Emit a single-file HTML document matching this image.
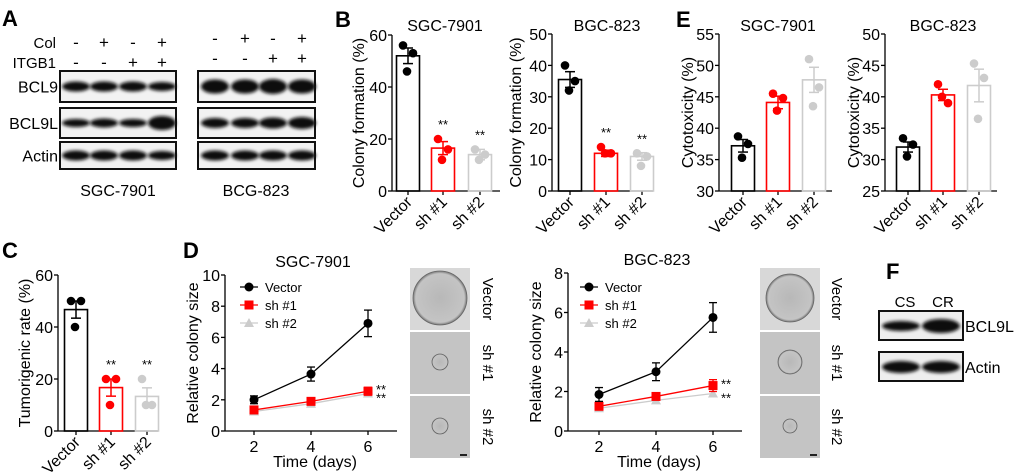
<!DOCTYPE html>
<html><head><meta charset="utf-8"><style>
html,body{margin:0;padding:0;background:#fff}
svg{display:block;font-family:"Liberation Sans",Arial,sans-serif}
</style></head><body>
<svg id="fig" width="1020" height="476" viewBox="0 0 1020 476" xmlns="http://www.w3.org/2000/svg">
<defs>
<filter id="blur" x="-20%" y="-50%" width="140%" height="200%"><feGaussianBlur stdDeviation="1.6"/></filter>
<radialGradient id="cellg"><stop offset="0" stop-color="#b8b8b8"/><stop offset="0.9" stop-color="#c4c4c4"/><stop offset="1" stop-color="#777"/></radialGradient>
</defs>
<g id="root"></g>
</svg>
<script>
// ---- data ----
const barCats = ["Vector","sh #1","sh #2"];
const bMeans1 = [52, 16.5, 14];
const bErr1 = [3, 2.5, 2];
const bPts1 = [[56,53,46],[20,16,12],[16,14,12]];
const bMeans2 = [35.5, 12, 11];
const bErr2 = [2.5, 1, 1.2];
const bPts2 = [[40,35,32],[14,12,12],[12,11,8]];
const eMeans1 = [37.2, 44.1, 47.7];
const eErr1 = [1, 1, 2];
const ePts1 = [[38.7,37.5,35.3],[45.5,44.8,42.8],[51,46.5,43.5]];
const eMeans2 = [32, 40.3, 41.8];
const eErr2 = [0.8, 0.9, 2.6];
const ePts2 = [[33.4,32.4,30.5],[42,39,40],[45.3,43,36.5]];
const cMeans = [46.7, 16.7, 13.3];
const cErr = [3.3, 3.3, 3.3];
const cPts = [[50,50,40],[20,20,10],[20,10,10]];
const days = [2, 4, 6];
const dVec1 = [2.0, 3.65, 6.9];
const dVecErr1 = [0.25, 0.45, 0.85];
const dSh1a = [1.35, 1.9, 2.55];
const dSh1aErr = [0.15, 0.15, 0.25];
const dSh2a = [1.25, 1.75, 2.4];
const dVec2 = [1.85, 3.0, 5.75];
const dVecErr2 = [0.35, 0.45, 0.75];
const dSh1b = [1.25, 1.75, 2.3];
const dSh1bErr = [0.12, 0.15, 0.3];
const dSh2b = [1.15, 1.55, 1.9];
const seriesColors = ["#000000","#ff0000","#cccccc"];

const NS="http://www.w3.org/2000/svg";
const root=document.getElementById('root');
function el(tag,attrs,parent,txt){const e=document.createElementNS(NS,tag);for(const k in attrs)e.setAttribute(k,attrs[k]);if(txt!==undefined)e.textContent=txt;(parent||root).appendChild(e);return e;}
function txt(x,y,s,size,parent,extra){const e=el('text',Object.assign({x:x,y:y,'font-size':size,fill:'#000'},extra||{}),parent,s);return e;}

function barChart(o){
  const g=el('g',{});
  
  
  const y=v=>o.y0-(v-o.min)/(o.max-o.min)*(o.y0-o.y1);
  el('line',{x1:o.ax,y1:o.y1,x2:o.ax,y2:o.y0,stroke:'#000','stroke-width':1.3},g);
  el('line',{x1:o.ax,y1:o.y0,x2:o.axEnd,y2:o.y0,stroke:'#000','stroke-width':1.3},g);
  o.ticks.forEach(t=>{const yy=y(t);el('line',{x1:o.ax-4,y1:yy,x2:o.ax,y2:yy,stroke:'#000','stroke-width':1.3},g);
    const tl=txt(o.ax-5,yy+6,String(t),16,g,{'text-anchor':'end'});
    
    });
  const yl=txt(0,0,o.ylabel,16,g,{'text-anchor':'middle',transform:`translate(${o.ylx},${(o.y0+o.y1)/2}) rotate(-90)`});
  
  
  const tt=txt(o.titleX,o.titleY,o.title,16,g,{'text-anchor':'middle'});
  
  
  const bw=o.bw||23;
  barCats.forEach((c,i)=>{
    const cx=o.xs[i],col=seriesColors[i];
    el('line',{x1:cx,y1:o.y0,x2:cx,y2:o.y0+4,stroke:'#000','stroke-width':1.3},g);
    const b=el('rect',{x:cx-bw/2,y:y(o.means[i]),width:bw,height:o.y0-y(o.means[i]),fill:'none',stroke:col,'stroke-width':1.6},g);
    
    
    const e1=y(o.means[i]+o.err[i]),e2=y(o.means[i]-o.err[i]);
    el('line',{x1:cx,y1:e1,x2:cx,y2:e2,stroke:col,'stroke-width':1.5},g);
    el('line',{x1:cx-5,y1:e1,x2:cx+5,y2:e1,stroke:col,'stroke-width':1.5},g);
    el('line',{x1:cx-5,y1:e2,x2:cx+5,y2:e2,stroke:col,'stroke-width':1.5},g);
    const offs=[-5,5,-1];
    o.pts[i].forEach((p,j)=>{const d=el('circle',{cx:cx+offs[j],cy:y(p),r:4.3,fill:col},g);
      
      });
    if(o.stars&&i>0){txt(cx,y(Math.max(...o.pts[i]))-10,'**',13,g,{'text-anchor':'middle'});}
    const xl=txt(0,0,c,16,g,{'text-anchor':'end',transform:`translate(${cx+5},${o.y0+12}) rotate(-45)`});
    
    
  });
}

function letter(x,y,s){const t=txt(x,y,s,22,root,{'font-weight':'bold'});}

// ---- Panel A ----
letter(2,26,'A');
(function(){
  const g=el('g',{});
  
  
  txt(56,48,'Col',15,g,{'text-anchor':'end'});
  txt(56,68,'ITGB1',15,g,{'text-anchor':'end'});
  const colS=['-','+','-','+'],itS=['-','-','+','+'];
  const xsA=[76,104,133,162],xsB=[215,245,273,302];
  xsA.forEach((x,i)=>{txt(x,48,colS[i],17,g,{'text-anchor':'middle'});txt(x,68,itS[i],17,g,{'text-anchor':'middle'});});
  xsB.forEach((x,i)=>{txt(x,44,colS[i],17,g,{'text-anchor':'middle'});txt(x,64,itS[i],17,g,{'text-anchor':'middle'});});
  const rows=[{n:'BCL9',y:71,h:31},{n:'BCL9L',y:108,h:30},{n:'Actin',y:142,h:27}];
  const intA=[[5,5,5,4.5],[4,4.5,4,7],[5,5,5,4.5]];
  const intB=[[7,7,7.5,7],[5,5,5.5,6],[5,5,5,5]];
  rows.forEach((r,ri)=>{
    txt(58,r.y+r.h/2+6,r.n,16,g,{'text-anchor':'end'});
    [[60,176,xsA,intA],[198,315,xsB,intB]].forEach(([x0,x1,xs,ints])=>{
      el('rect',{x:x0,y:r.y,width:x1-x0,height:r.h,fill:'#f2f2f2',stroke:'#111','stroke-width':2},g);
      xs.forEach((x,i)=>{el('ellipse',{cx:x,cy:r.y+r.h/2,rx:14,ry:ints[ri][i],fill:'#111',filter:'url(#blur)'},g);});
    });
  });
  txt(118,196,'SGC-7901',16,g,{'text-anchor':'middle'});
  txt(256,196,'BCG-823',16,g,{'text-anchor':'middle'});
})();

// ---- Panel B ----
letter(335,27,'B');
barChart({name:'colony-formation-sgc7901',ax:392,axEnd:500,y0:191,y1:35,min:0,max:60,ticks:[0,20,40,60],xs:[408,443,480],means:bMeans1,err:bErr1,pts:bPts1,ylabel:'Colony formation (%)',ylx:364,title:'SGC-7901',titleX:445,titleY:31,stars:true});
barChart({name:'colony-formation-bgc823',ax:552,axEnd:653,y0:191,y1:34,min:0,max:50,ticks:[0,10,20,30,40,50],xs:[570,606,642],means:bMeans2,err:bErr2,pts:bPts2,ylabel:'Colony formation (%)',ylx:521,title:'BGC-823',titleX:607,titleY:31,stars:true});

// ---- Panel E ----
letter(676,27,'E');
barChart({name:'cytotoxicity-sgc7901',ax:719,axEnd:832,y0:191,y1:34,min:30,max:55,ticks:[30,35,40,45,50,55],xs:[743,778,814],means:eMeans1,err:eErr1,pts:ePts1,ylabel:'Cytotoxicity (%)',ylx:693,title:'SGC-7901',titleX:778,titleY:31});
barChart({name:'cytotoxicity-bgc823',ax:885,axEnd:997,y0:191,y1:34,min:25,max:50,ticks:[25,30,35,40,45,50],xs:[908,943,979],means:eMeans2,err:eErr2,pts:ePts2,ylabel:'Cytotoxicity (%)',ylx:859,title:'BGC-823',titleX:943,titleY:31});

// ---- Panel C ----
letter(2,258,'C');
barChart({name:'tumorigenic-rate',ax:58,axEnd:158,y0:431,y1:275,min:0,max:60,ticks:[0,20,40,60],xs:[76,111,147],means:cMeans,err:cErr,pts:cPts,ylabel:'Tumorigenic rate (%)',ylx:30,stars:true,title:'',titleX:0,titleY:0});

// ---- Panel D ----
letter(183,258,'D');
function lineChart(o){
  const g=el('g',{});
  
  
  const y=v=>o.y0-v/o.max*(o.y0-o.y1);
  const x=d=>o.x2+(d-2)/4*(o.x6-o.x2);
  el('line',{x1:o.ax,y1:o.y1,x2:o.ax,y2:o.y0,stroke:'#000','stroke-width':1.3},g);
  el('line',{x1:o.ax,y1:o.y0,x2:o.axEnd,y2:o.y0,stroke:'#000','stroke-width':1.3},g);
  o.ticks.forEach(t=>{const yy=y(t);el('line',{x1:o.ax-4,y1:yy,x2:o.ax,y2:yy,stroke:'#000','stroke-width':1.3},g);
    const tl=txt(o.ax-5,yy+6,String(t),16,g,{'text-anchor':'end'});
    
    });
  days.forEach(d=>{el('line',{x1:x(d),y1:o.y0,x2:x(d),y2:o.y0+4,stroke:'#000','stroke-width':1.3},g);
    const tl=txt(x(d),o.y0+21,String(d),16,g,{'text-anchor':'middle'});
    
    });
  const xt=txt((o.ax+o.axEnd)/2+4,o.y0+36,'Time (days)',16,g,{'text-anchor':'middle'});
  
  
  const yl=txt(0,0,'Relative colony size',16,g,{'text-anchor':'middle',transform:`translate(${o.ax-27},${(o.y0+o.y1)/2}) rotate(-90)`});
  
  
  const tt=txt((o.ax+o.axEnd)/2+2,o.y1-8,o.title,16,g,{'text-anchor':'middle'});
  
  
  const series=[{v:o.sh2,e:null,c:'#cccccc',m:'tri',n:'sh #2'},{v:o.sh1,e:o.sh1e,c:'#ff0000',m:'sq',n:'sh #1'},{v:o.vec,e:o.vece,c:'#000000',m:'circ',n:'Vector'}];
  function marker(m,cx,cy,c,p){
    if(m==='circ')return el('circle',{cx:cx,cy:cy,r:4.5,fill:c},p);
    if(m==='sq')return el('rect',{x:cx-4.5,y:cy-4.5,width:9,height:9,fill:c},p);
    return el('polygon',{points:`${cx},${cy-5} ${cx-5},${cy+4} ${cx+5},${cy+4}`,fill:c},p);
  }
  series.forEach(s=>{
    const sg=el('g',{},g);
    
    
    el('polyline',{points:days.map((d,i)=>x(d)+','+y(s.v[i])).join(' '),fill:'none',stroke:s.c,'stroke-width':1.3},sg);
    days.forEach((d,i)=>{
      if(s.e){const a=y(s.v[i]+s.e[i]),b=y(s.v[i]-s.e[i]);
        el('line',{x1:x(d),y1:a,x2:x(d),y2:b,stroke:s.c,'stroke-width':1.3},sg);
        el('line',{x1:x(d)-4,y1:a,x2:x(d)+4,y2:a,stroke:s.c,'stroke-width':1.3},sg);
        el('line',{x1:x(d)-4,y1:b,x2:x(d)+4,y2:b,stroke:s.c,'stroke-width':1.3},sg);}
      const mk=marker(s.m,x(d),y(s.v[i]),s.c,sg);
      
      
    });
  });
  txt(x(6)+8,y(o.sh1[2])+3,'**',13,g);
  txt(x(6)+8,y(o.sh2[2])+9,'**',13,g);
  const leg=el('g',{},g);
  
  
  [series[2],series[1],series[0]].forEach((s,i)=>{
    const ly=o.legY+i*18;
    el('line',{x1:o.legX,y1:ly,x2:o.legX+18,y2:ly,stroke:s.c,'stroke-width':1.3},leg);
    marker(s.m,o.legX+9,ly,s.c,leg);
    const lt=txt(o.legX+25,ly+5,s.n,13,leg);
    
    
  });
}
lineChart({name:'colony-size-sgc7901',ax:225,axEnd:397,y0:431,y1:275,max:10,ticks:[0,2,4,6,8,10],x2:254,x6:368,vec:dVec1,vece:dVecErr1,sh1:dSh1a,sh1e:dSh1aErr,sh2:dSh2a,title:'SGC-7901',legX:240,legY:287});
lineChart({name:'colony-size-bgc823',ax:568,axEnd:742,y0:431,y1:273,max:8,ticks:[0,2,4,6,8],x2:599,x6:713,vec:dVec2,vece:dVecErr2,sh1:dSh1b,sh1e:dSh1bErr,sh2:dSh2b,title:'BGC-823',legX:580,legY:287});

function micro(x0,labX,radii){
  const g=el('g',{});
  
  
  const ys=[268,332,396],labs=['Vector','sh #1','sh #2'];
  ys.forEach((yy,i)=>{
    el('rect',{x:x0,y:yy,width:60,height:62,fill:i===0?'#d8d8d8':'#c4c4c4'},g);
    el('circle',{cx:x0+30,cy:yy+30,r:radii[i],fill:'url(#cellg)',stroke:'#666','stroke-width':0.8},g);
    const t=txt(0,0,labs[i],15,g,{'text-anchor':'middle',transform:`translate(${labX},${yy+31}) rotate(90)`});
    
    
  });
  el('line',{x1:x0+50,y1:455,x2:x0+57,y2:455,stroke:'#222','stroke-width':2},g);
}
micro(410,483,[27,8,8]);
micro(760,832,[24,12,7]);

// ---- Panel F ----
letter(886,279,'F');
(function(){
  const g=el('g',{});
  
  
  txt(905,307,'CS',15,g,{'text-anchor':'middle'});
  txt(943,307,'CR',15,g,{'text-anchor':'middle'});
  [[311,'BCL9L',[5,7]],[352,'Actin',[6,6]]].forEach(([y0,n,ints])=>{
    el('rect',{x:879,y:y0,width:84,height:29,fill:'#eee',stroke:'#111','stroke-width':2},g);
    [901,941].forEach((x,i)=>el('ellipse',{cx:x,cy:y0+15,rx:19,ry:ints[i],fill:'#111',filter:'url(#blur)'},g));
    txt(965,y0+21,n,16,g);
  });
})();
</script>
</body></html>
